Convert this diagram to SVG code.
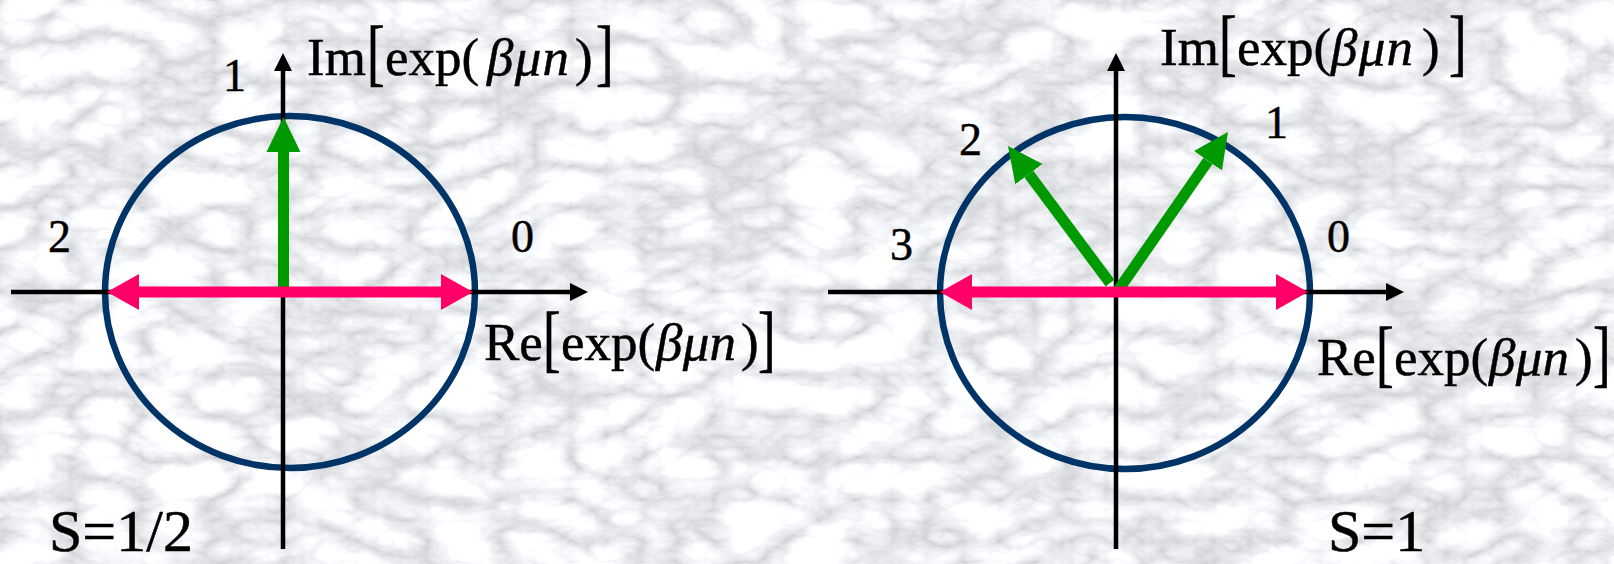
<svg xmlns="http://www.w3.org/2000/svg" width="1614" height="564" viewBox="0 0 1614 564">
  <defs>
    <filter id="marble" x="0" y="0" width="1614" height="564" filterUnits="userSpaceOnUse">
      <feTurbulence type="turbulence" baseFrequency="0.014 0.024" numOctaves="5" seed="11" result="n"/>
      <feColorMatrix in="n" type="matrix" values="0.8 0 0 0 0.61  0.8 0 0 0 0.62  0.8 0 0 0 0.65  0 0 0 0 1"/>
    </filter>
    <marker id="axisHead" markerUnits="userSpaceOnUse" markerWidth="20" markerHeight="20" viewBox="0 -10 20 20" refX="0" refY="0" orient="auto">
      <path d="M0,-9 L18,0 L0,9 Z" fill="#000"/>
    </marker>
    <marker id="pinkHead" markerUnits="userSpaceOnUse" markerWidth="34" markerHeight="40" viewBox="0 -20 34 40" refX="0" refY="0" orient="auto-start-reverse">
      <path d="M0,-18 L32,0 L0,18 Z" fill="#FF0066"/>
    </marker>
    <marker id="greenHead" markerUnits="userSpaceOnUse" markerWidth="37" markerHeight="38" viewBox="0 -19 37 38" refX="0" refY="0" orient="auto">
      <path d="M0,-17 L35,0 L0,17 Z" fill="#009900"/>
    </marker>
  </defs>
  <style>
    text { font-family: "Liberation Serif", "Times New Roman", "DejaVu Serif", serif; fill: #000; stroke: #000; stroke-width: 0.5px; }
    .lbl { font-size: 53px; }
    .it { font-style: italic; }
    .num { font-size: 46px; }
    .s { font-size: 60px; }
    .circle { fill: none; stroke: #003366; stroke-width: 6.5; }
    .axis { stroke: #000; stroke-width: 4.5; fill: none; marker-end: url(#axisHead); }
    .pink { stroke: #FF0066; stroke-width: 11; fill: none; marker-start: url(#pinkHead); marker-end: url(#pinkHead); }
    .green { stroke: #009900; stroke-width: 11; fill: none; marker-end: url(#greenHead); }
  </style>

  <rect id="background" x="0" y="0" width="1614" height="564" fill="#d4d6d9"/>
  <rect x="0" y="0" width="1614" height="564" filter="url(#marble)"/>

  <g id="circle-left"><ellipse class="circle" cx="290" cy="292" rx="185" ry="176"/></g>
  <g id="circle-right"><ellipse class="circle" cx="1125" cy="293" rx="185" ry="176"/></g>

  <g id="connectors">
    <line class="axis" x1="11" y1="292" x2="570" y2="292"/>
    <line class="axis" x1="283" y1="549" x2="283" y2="71"/>
    <line class="axis" x1="828" y1="292" x2="1386" y2="292"/>
    <line class="axis" x1="1116" y1="549" x2="1116" y2="71"/>

    <line class="green" x1="283.5" y1="291" x2="283.5" y2="152"/>
    <line class="pink" x1="139" y1="292" x2="441" y2="292"/>

    <line class="green" x1="1110" y1="283" x2="1028.9" y2="174.1"/>
    <line class="green" x1="1117" y1="292" x2="1208" y2="160.8"/>
    <line class="pink" x1="972" y1="292" x2="1276" y2="292"/>
  </g>

  <g id="label-im-left">
    <text class="lbl" x="307" y="75">Im</text>
    <text class="lbl" transform="translate(367,77) scale(1,1.4)">[</text>
    <text class="lbl" x="385" y="75">exp(</text>
    <text class="lbl it" x="487" y="75" textLength="82" lengthAdjust="spacing">βμn</text>
    <text class="lbl" x="575" y="75">)</text>
    <text class="lbl" transform="translate(596,77) scale(1,1.4)">]</text>
  </g>
  <g id="label-re-left">
    <text class="lbl" x="484" y="360">Re</text>
    <text class="lbl" transform="translate(543,363) scale(1,1.4)">[</text>
    <text class="lbl" x="561" y="360">exp(</text>
    <text class="lbl it" x="656" y="360" textLength="80" lengthAdjust="spacing">βμn</text>
    <text class="lbl" x="741" y="360">)</text>
    <text class="lbl" transform="translate(758,363) scale(1,1.4)">]</text>
  </g>
  <g id="label-im-right">
    <text class="lbl" x="1160" y="65">Im</text>
    <text class="lbl" transform="translate(1219,67) scale(1,1.4)">[</text>
    <text class="lbl" x="1237" y="65">exp(</text>
    <text class="lbl it" x="1331" y="65" textLength="82" lengthAdjust="spacing">βμn</text>
    <text class="lbl" x="1422" y="65">)</text>
    <text class="lbl" transform="translate(1449,67) scale(1,1.4)">]</text>
  </g>
  <g id="label-re-right">
    <text class="lbl" x="1317" y="375">Re</text>
    <text class="lbl" transform="translate(1376,378) scale(1,1.4)">[</text>
    <text class="lbl" x="1394" y="375">exp(</text>
    <text class="lbl it" x="1489" y="375" textLength="80" lengthAdjust="spacing">βμn</text>
    <text class="lbl" x="1575" y="375">)</text>
    <text class="lbl" transform="translate(1593,378) scale(1,1.4)">]</text>
  </g>

  <g id="point-labels-left">
    <text class="num" x="223" y="91">1</text>
    <text class="num" x="48" y="252">2</text>
    <text class="num" x="511" y="252">0</text>
  </g>
  <g id="point-labels-right">
    <text class="num" x="1265" y="138">1</text>
    <text class="num" x="959" y="155">2</text>
    <text class="num" x="890" y="260">3</text>
    <text class="num" x="1327" y="252">0</text>
  </g>

  <g id="spin-left"><text class="s" x="49" y="551">S=1/2</text></g>
  <g id="spin-right"><text class="s" x="1328" y="551">S=1</text></g>
</svg>
